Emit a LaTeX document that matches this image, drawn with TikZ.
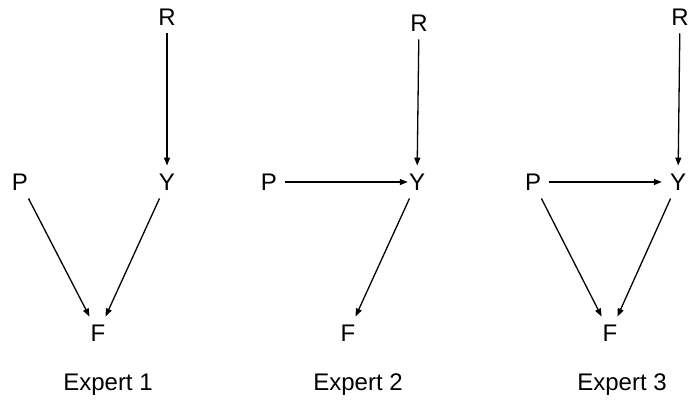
\documentclass[tikz,border=0pt]{standalone}
\usepackage{fontspec}
\setmainfont{Liberation Sans}
\usetikzlibrary{arrows.meta}

\begin{document}
\begin{tikzpicture}[
    x=1pt, y=1pt,
    >={Triangle[length=8pt,width=6pt]},
    font=\fontsize{24}{28}\selectfont,
    line join=round,
    var/.style={inner sep=8pt},
    caption/.style={anchor=base},
    edge/.style={->, line width=1.3pt}
]
\useasboundingbox (0,0) rectangle (688,400);

% =========================
% Expert 1
% =========================
\node[var] (r1) at (167,383) {R};
\node[var] (p1) at (20,218) {P};
\node[var] (y1) at (167,218) {Y};
\node[var] (f1) at (98,67) {F};
\node[caption] (c1) at (108,10) {Expert 1};

\draw[edge] (r1) -- (y1);
\draw[edge] (p1) -- (f1);
\draw[edge] (y1) -- (f1);

% =========================
% Expert 2
% =========================
\node[var] (r2) at (419,377) {R};
\node[var] (p2) at (269,218) {P};
\node[var] (y2) at (417,218) {Y};
\node[var] (f2) at (348,67) {F};
\node[caption] (c2) at (358,10) {Expert 2};

\draw[edge] (r2) -- (y2);
\draw[edge, shorten >=-7pt] (p2) -- (y2);
\draw[edge] (y2) -- (f2);

% =========================
% Expert 3
% =========================
\node[var] (r3) at (680,383) {R};
\node[var] (p3) at (533,218) {P};
\node[var] (y3) at (678,218) {Y};
\node[var] (f3) at (610,67) {F};
\node[caption] (c3) at (622,10) {Expert 3};

\draw[edge] (r3) -- (y3);
\draw[edge] (p3) -- (y3);
\draw[edge] (p3) -- (f3);
\draw[edge] (y3) -- (f3);

\end{tikzpicture}
\end{document}
